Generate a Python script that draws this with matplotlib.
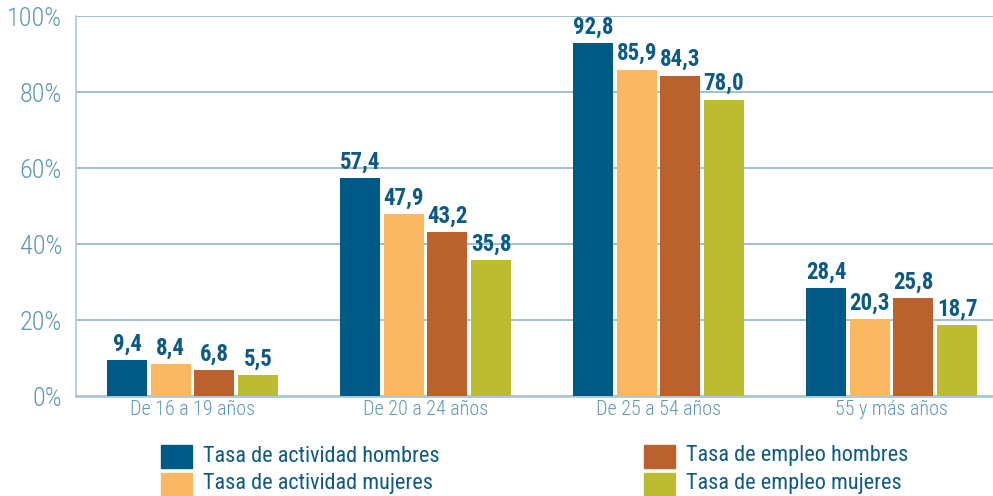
import matplotlib
matplotlib.use('Agg')
import matplotlib.pyplot as plt
from matplotlib import font_manager
from matplotlib.patches import Rectangle
import numpy as np

# datos
grupos = ['De 16 a 19 años', 'De 20 a 24 años', 'De 25 a 54 años', '55 y más años']
series = ['Tasa de actividad hombres', 'Tasa de actividad mujeres',
          'Tasa de empleo hombres', 'Tasa de empleo mujeres']
act_hombres = [9.4, 57.4, 92.8, 28.4]
act_mujeres = [8.4, 47.9, 85.9, 20.3]
emp_hombres = [6.8, 43.2, 84.3, 25.8]
emp_mujeres = [5.5, 35.8, 78.0, 18.7]
yticks = [0, 20, 40, 60, 80, 100]

colores = ['#005a87', '#fbb863', '#b9622e', '#bcbc33']
c_texto = '#0d5a85'
c_eje = '#5d97b6'
c_grid = '#8db6cc'

# buscar una fuente estrecha si existe
nombres = sorted({f.name for f in font_manager.fontManager.ttflist})
estrecha = None
for cand in ['Liberation Sans Narrow', 'Roboto Condensed', 'DejaVu Sans Condensed',
             'Open Sans Condensed', 'Noto Sans Condensed']:
    if cand in nombres:
        estrecha = cand
        break
if estrecha is None:
    for n in nombres:
        if 'Narrow' in n or 'Condensed' in n:
            estrecha = n
            break
if estrecha is None:
    estrecha = 'DejaVu Sans'
plt.rcParams['font.family'] = [estrecha, 'DejaVu Sans']
plt.rcParams['font.stretch'] = 'condensed'

fig = plt.figure(figsize=(9.93, 4.96), dpi=100)
ax = fig.add_axes([76 / 993, 100 / 496, 932 / 993, 380 / 496])

x = np.arange(len(grupos))
paso = 0.1875
ancho = 0.172
valores = [act_hombres, act_mujeres, emp_hombres, emp_mujeres]
for i, vals in enumerate(valores):
    pos = x + (i - 1.5) * paso
    ax.bar(pos, vals, width=ancho, color=colores[i], zorder=3)
    for px, v in zip(pos, vals):
        ax.text(px, v + 1.2, f'{v:.1f}'.replace('.', ','), ha='center', va='bottom',
                fontsize=16.5, fontweight='bold', color=c_texto, zorder=4)

ax.set_xlim(-0.5, 3.5)
ax.set_ylim(0, 100)
ax.set_yticks(yticks)
ax.set_yticklabels([f'{t}%' for t in yticks], fontweight='light')
ax.set_xticks(x)
ax.set_xticklabels(grupos, fontweight='light')
ax.tick_params(axis='y', length=0, pad=10, labelsize=19, labelcolor=c_eje)
ax.tick_params(axis='x', length=0, pad=3, labelsize=14.5, labelcolor=c_eje)
ax.yaxis.grid(True, color=c_grid, linewidth=1.2, zorder=0)
ax.set_axisbelow(True)
for s in ['top', 'right']:
    ax.spines[s].set_visible(False)
ax.spines['left'].set_color('#a9c8d8')
ax.spines['left'].set_linewidth(1.2)
ax.spines['bottom'].set_color('#a9c8d8')
ax.spines['bottom'].set_linewidth(2)

# leyenda manual en dos columnas
leg_x = [161, 644]
leg_y = [456, 484]
for i, nombre in enumerate(series):
    cx = leg_x[i // 2]
    cy = leg_y[i % 2]
    fig.add_artist(Rectangle((cx / 993, 1 - (cy + 11.5) / 496), 31 / 993, 23 / 496,
                             transform=fig.transFigure, color=colores[i]))
    fig.text((cx + 42) / 993, 1 - cy / 496, nombre, ha='left', va='center',
             fontsize=16, color=c_texto)

fig.savefig('out.png', dpi=100)
